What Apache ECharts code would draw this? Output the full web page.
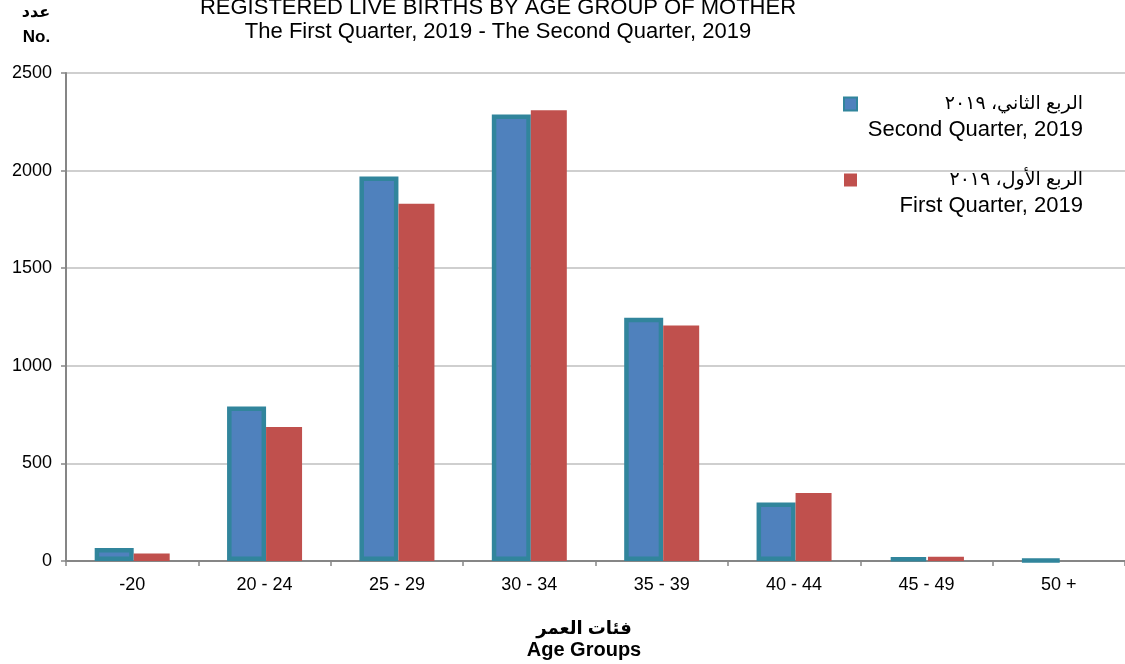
<!DOCTYPE html>
<html>
<head>
<meta charset="utf-8">
<script src="https://cdn.jsdelivr.net/npm/echarts@6/dist/echarts.min.js"></script>
<style>
html,body{margin:0;padding:0;background:#fff;}
#chart{width:1125px;height:664px;}
</style>
</head>
<body>
<div id="chart"></div>
<script>
const categories = ['-20', '20 - 24', '25 - 29', '30 - 34', '35 - 39', '40 - 44', '45 - 49', '50 +'];
const secondQuarter = [66, 792, 1970, 2288, 1246, 300, 18, 6];
const firstQuarter = [38, 686, 1830, 2309, 1206, 348, 22, 0];
const yMin = 0, yMax = 2500, yStep = 500;
const seriesNames = ['Q2', 'Q1'];
const legendArabic = ['الربع الثاني، ٢٠١٩', 'الربع الأول، ٢٠١٩'];
const legendEnglish = ['Second Quarter, 2019', 'First Quarter, 2019'];
const titleLines = ['REGISTERED LIVE BIRTHS BY AGE GROUP OF MOTHER', 'The First Quarter, 2019 - The Second Quarter, 2019'];
const yNameAr = 'عدد', yNameEn = 'No.';
const xNameAr = 'فئات العمر', xNameEn = 'Age Groups';

const FONT = '"Liberation Sans", Arial, "DejaVu Sans", sans-serif';
const chart = echarts.init(document.getElementById('chart'), null, {renderer: 'canvas'});

chart.setOption({
  animation: false,
  backgroundColor: '#fff',
  textStyle: {fontFamily: FONT, color: '#000'},
  grid: {left: 66, right: -7, top: 73, bottom: 103, containLabel: false},
  xAxis: {
    type: 'category',
    data: categories,
    axisLine: {lineStyle: {color: '#868686', width: 2}},
    axisTick: {show: true, length: 5, lineStyle: {color: '#868686', width: 1.5}},
    axisLabel: {fontSize: 18, color: '#000', margin: 15, fontFamily: FONT},
    splitLine: {show: false}
  },
  yAxis: {
    type: 'value',
    min: yMin, max: yMax, interval: yStep,
    axisLine: {show: true, lineStyle: {color: '#868686', width: 2}},
    axisTick: {show: true, length: 5, lineStyle: {color: '#868686', width: 1.5}},
    axisLabel: {fontSize: 18, color: '#000', margin: 14, fontFamily: FONT, formatter: function (v) { return String(v); }},
    splitLine: {show: true, lineStyle: {color: '#BFBFBF', width: 1.5}}
  },
  legend: {
    orient: 'vertical',
    left: 843, top: 65,
    padding: 0,
    itemGap: -2,
    itemWidth: 13, itemHeight: 13,
    icon: 'rect',
    data: [
      {name: seriesNames[0], itemStyle: {color: '#4F81BD', borderColor: '#31859C', borderWidth: 2}},
      {name: seriesNames[1], itemStyle: {color: '#C0504D', borderWidth: 0}}
    ],
    formatter: function (name) {
      const i = seriesNames.indexOf(name);
      return '{e| }\n{a|' + legendArabic[i] + '}\n{b|' + legendEnglish[i] + '}';
    },
    textStyle: {
      fontFamily: FONT,
      rich: {
        e: {height: 26, lineHeight: 26, fontSize: 10, width: 221},
        a: {height: 26, lineHeight: 26, fontSize: 19, width: 221, align: 'right', color: '#000', fontFamily: FONT},
        b: {height: 26, lineHeight: 26, fontSize: 22, width: 221, align: 'right', color: '#000', fontFamily: FONT}
      }
    }
  },
  series: [
    {
      name: seriesNames[0],
      type: 'bar',
      data: secondQuarter,
      barWidth: 39,
      barGap: 0,
      itemStyle: {color: '#4F81BD', borderColor: '#31859C', borderWidth: 4.5}
    },
    {
      name: seriesNames[1],
      type: 'bar',
      data: firstQuarter,
      barWidth: 36,
      itemStyle: {color: '#C0504D'}
    }
  ],
  graphic: [
    {type: 'text', x: 498, y: 20, style: {text: titleLines.join('\n'), fontSize: 22, lineHeight: 24, fontFamily: FONT, fill: '#000', textAlign: 'center', textVerticalAlign: 'middle'}},
    {type: 'text', x: 36, y: 13, style: {text: yNameAr, fontSize: 16, fontWeight: 'bold', fontFamily: FONT, fill: '#000', textAlign: 'center', textVerticalAlign: 'middle'}},
    {type: 'text', x: 36.5, y: 37, style: {text: yNameEn, fontSize: 17, fontWeight: 'bold', fontFamily: FONT, fill: '#000', textAlign: 'center', textVerticalAlign: 'middle'}},
    {type: 'text', x: 584, y: 629, style: {text: xNameAr, fontSize: 18, fontWeight: 'bold', fontFamily: FONT, fill: '#000', textAlign: 'center', textVerticalAlign: 'middle'}},
    {type: 'text', x: 584, y: 650, style: {text: xNameEn, fontSize: 20, fontWeight: 'bold', fontFamily: FONT, fill: '#000', textAlign: 'center', textVerticalAlign: 'middle'}}
  ]
});
</script>
</body>
</html>
